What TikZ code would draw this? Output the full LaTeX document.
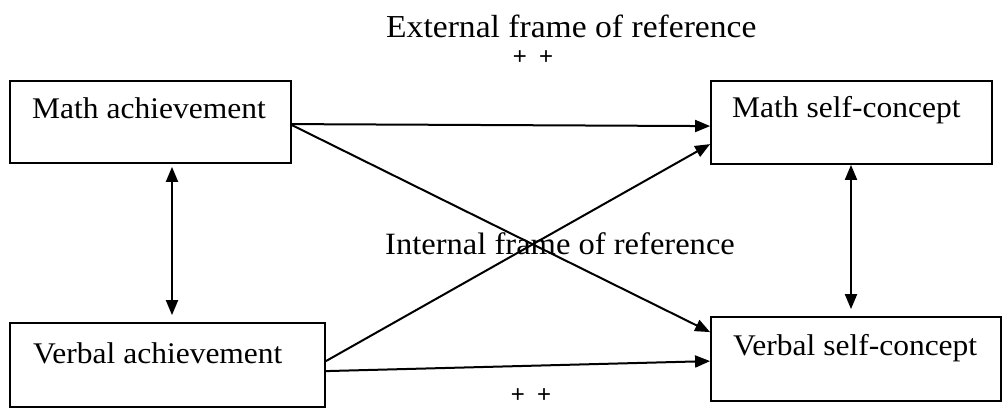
\documentclass[tikz,border=0pt]{standalone}
\usepackage{fontspec}
\setmainfont{Liberation Serif}
\newfontfamily\plusfont{Liberation Sans}
\usetikzlibrary{arrows.meta}
\tikzset{
  box/.style={draw, line width=1.8pt, rectangle, inner sep=0pt},
  lbl/.style={inner sep=0pt, anchor=base west, font=\fontsize{30}{32}\selectfont},
  pl/.style={inner sep=0pt, font=\plusfont\fontsize{24}{26}\selectfont},
  conn/.style={line width=2pt, -{Triangle[length=15pt,width=12pt]}},
  bi/.style={line width=2pt, {Triangle[length=15pt,width=12pt]}-{Triangle[length=15pt,width=12pt]}},
}
\newcommand{\wide}[1]{\scalebox{1.05}[1]{#1}}
\begin{document}
\begin{tikzpicture}[x=1pt,y=-1pt]
\useasboundingbox (0,0) rectangle (1003,411);
\node[box, minimum width=281pt, minimum height=82pt] (ma) at (150.5,122) {};
\node[box, minimum width=281pt, minimum height=83pt] (msc) at (851.5,122.5) {};
\node[box, minimum width=315pt, minimum height=84pt] (va) at (167.5,365) {};
\node[box, minimum width=290pt, minimum height=84pt] (vsc) at (856,359) {};
\node[lbl] (mat) at (32,119) {\wide{Math achievement}};
\node[lbl] (msct) at (732,118) {\wide{Math self-concept}};
\node[lbl] (vat) at (33,363) {\wide{Verbal achievement}};
\node[lbl] (vsct) at (733,355) {\wide{Verbal self-concept}};
\node[lbl, font=\fontsize{32}{34}\selectfont] (ext) at (386,38) {\wide{External frame of reference}};
\node[lbl, font=\fontsize{31}{33}\selectfont] (int) at (385,255) {\wide{Internal frame of reference}};
\node[pl] (p1) at (533,58) {+\hspace{12pt}+};
\node[pl] (p2) at (531,396) {+\hspace{12pt}+};
\draw[conn] ([yshift=-44pt]ma.north east) -- ([yshift=-46pt]msc.north west);
\draw[conn] ([yshift=-45pt]ma.north east) -- ([yshift=-16pt]vsc.north west);
\draw[conn] ([yshift=-39pt]va.north east) -- ([yshift=-64pt]msc.north west);
\draw[conn] ([yshift=-49pt]va.north east) -- ([yshift=-45pt]vsc.north west);
\draw[bi, shorten <=3pt, shorten >=7pt] ([xshift=21.5pt]ma.south) -- ([xshift=21.5pt]ma.south |- va.north);
\draw[bi, shorten >=7pt] ([xshift=-0.5pt]msc.south) -- ([xshift=-0.5pt]msc.south |- vsc.north);
\end{tikzpicture}
\end{document}
